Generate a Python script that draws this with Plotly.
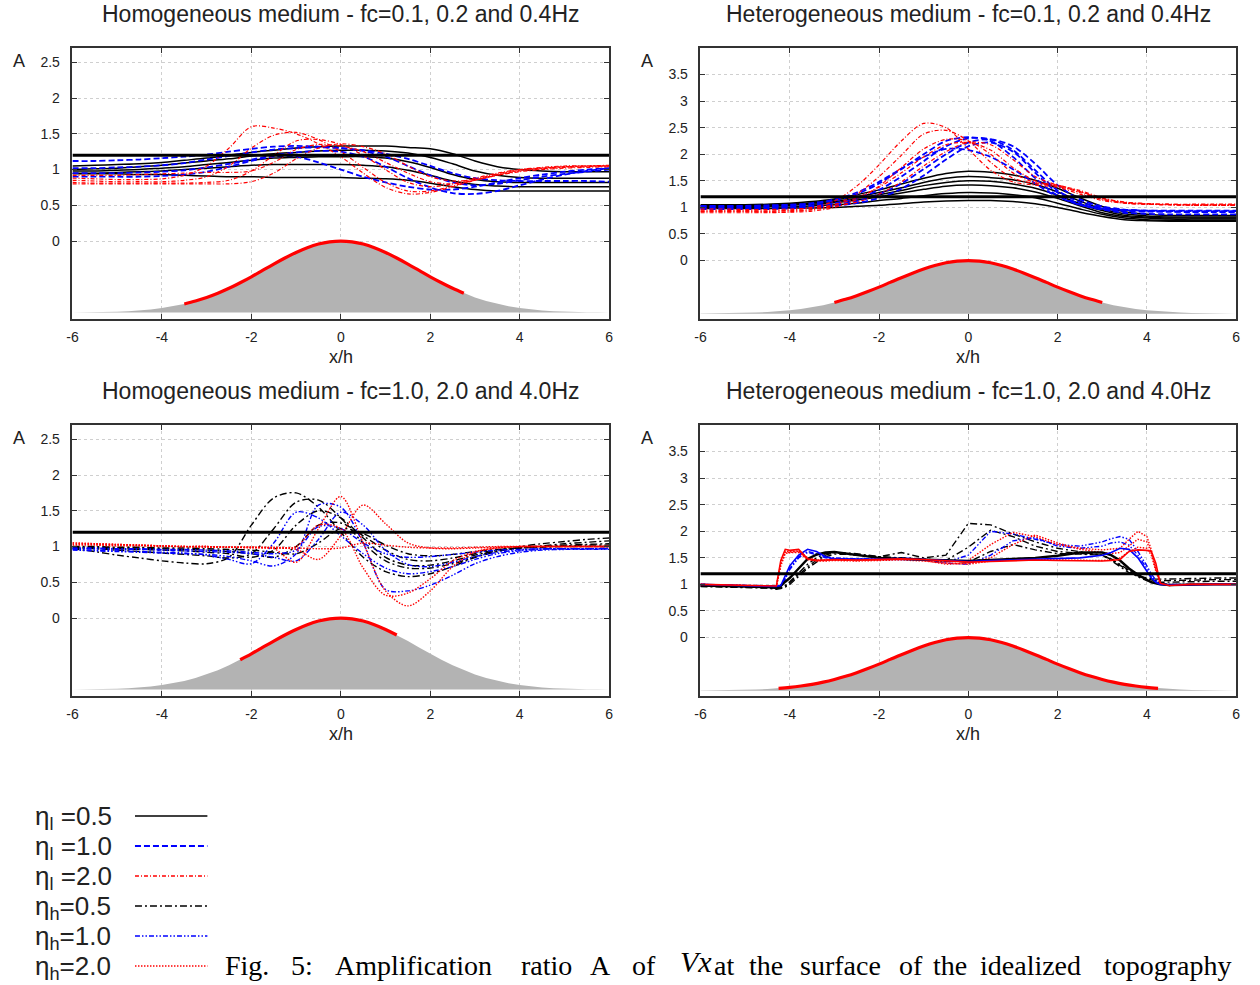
import plotly.graph_objects as go

# ---------------- data ----------------
X_GRID = [-6.0, -5.5, -5.0, -4.5, -4.0, -3.5, -3.0, -2.5, -2.0, -1.5, -1.0, -0.5, 0.0,
          0.5, 1.0, 1.5, 2.0, 2.5, 3.0, 3.5, 4.0, 4.5, 5.0, 5.5, 6.0]
X_BR = [-6.0, -5.5, -5.0, -4.5, -4.3, -4.2, -4.1, -4.0, -3.8, -3.6, -3.4, -3.2, -3.0,
        -2.5, -2.0, -1.5, -1.0, -0.5, 0.0, 0.5, 1.0, 1.5, 2.0, 2.5, 3.0,
        3.2, 3.4, 3.6, 3.8, 4.0, 4.1, 4.2, 4.3, 4.5, 5.0, 5.5, 6.0]

HILL_X = [-6.0, -5.75, -5.5, -5.25, -5.0, -4.75, -4.5, -4.25, -4.0, -3.75, -3.5, -3.25, -3.0,
          -2.75, -2.5, -2.25, -2.0, -1.75, -1.5, -1.25, -1.0, -0.75, -0.5, -0.25, 0.0,
          0.25, 0.5, 0.75, 1.0, 1.25, 1.5, 1.75, 2.0, 2.25, 2.5, 2.75, 3.0,
          3.25, 3.5, 3.75, 4.0, 4.25, 4.5, 4.75, 5.0, 5.25, 5.5, 5.75, 6.0]
HILL_Y = [-0.998, -0.997, -0.995, -0.992, -0.987, -0.980, -0.970, -0.956, -0.937, -0.912, -0.880, -0.839, -0.789,
          -0.730, -0.661, -0.583, -0.500, -0.411, -0.322, -0.237, -0.159, -0.093, -0.042, -0.011, 0.0,
          -0.011, -0.042, -0.093, -0.159, -0.237, -0.322, -0.411, -0.500, -0.583, -0.661, -0.730, -0.789,
          -0.839, -0.880, -0.912, -0.937, -0.956, -0.970, -0.980, -0.987, -0.992, -0.995, -0.997, -0.998]
HILL_BASE = -1.0
REF_A = 1.2
RED_SPAN = {"TL": (-3.5, 2.75), "TR": (-3.0, 3.0), "BL": (-2.25, 1.25), "BR": (-4.25, 4.25)}

TITLES = {
    "TL": "Homogeneous medium - fc=0.1, 0.2 and 0.4Hz",
    "TR": "Heterogeneous medium - fc=0.1, 0.2 and 0.4Hz",
    "BL": "Homogeneous medium - fc=1.0, 2.0 and 4.0Hz",
    "BR": "Heterogeneous medium - fc=1.0, 2.0 and 4.0Hz",
}
X_TICKS = [-6, -4, -2, 0, 2, 4, 6]
X_TICK_TEXT = ["-6", "-4", "-2", "0", "2", "4", "6"]
Y_TICKS_HOM = [0, 0.5, 1, 1.5, 2, 2.5]
Y_TICK_TEXT_HOM = ["0", "0.5", "1", "1.5", "2", "2.5"]
Y_TICKS_HET = [0, 0.5, 1, 1.5, 2, 2.5, 3, 3.5]
Y_TICK_TEXT_HET = ["0", "0.5", "1", "1.5", "2", "2.5", "3", "3.5"]

# Top-left: homogeneous, low frequencies
TL_L05 = [
    [1.05, 1.06, 1.07, 1.08, 1.10, 1.13, 1.16, 1.20, 1.24, 1.27, 1.30, 1.32, 1.33, 1.33, 1.33, 1.31, 1.29, 1.22, 1.12, 1.04, 1.00, 0.98, 0.97, 0.97, 0.97],
    [1.00, 1.01, 1.02, 1.04, 1.06, 1.09, 1.12, 1.15, 1.19, 1.22, 1.24, 1.26, 1.27, 1.27, 1.26, 1.23, 1.17, 1.08, 0.98, 0.92, 0.89, 0.88, 0.88, 0.88, 0.88],
    [0.98, 0.98, 0.99, 1.00, 1.02, 1.04, 1.07, 1.10, 1.13, 1.16, 1.17, 1.18, 1.18, 1.18, 1.16, 1.11, 1.03, 0.93, 0.86, 0.83, 0.82, 0.82, 0.82, 0.82, 0.82],
    [0.95, 0.95, 0.96, 0.97, 0.98, 1.00, 1.02, 1.04, 1.06, 1.07, 1.07, 1.07, 1.07, 1.06, 1.04, 0.99, 0.92, 0.84, 0.79, 0.77, 0.76, 0.76, 0.76, 0.76, 0.76],
    [0.94, 0.94, 0.94, 0.93, 0.93, 0.92, 0.91, 0.90, 0.90, 0.89, 0.89, 0.89, 0.89, 0.88, 0.87, 0.85, 0.81, 0.76, 0.72, 0.70, 0.70, 0.70, 0.70, 0.70, 0.70],
]
TL_L10 = [
    [1.12, 1.12, 1.13, 1.14, 1.16, 1.18, 1.21, 1.25, 1.29, 1.32, 1.33, 1.32, 1.30, 1.27, 1.22, 1.15, 1.05, 0.95, 0.88, 0.85, 0.84, 0.84, 0.84, 0.84, 0.83],
    [1.02, 1.02, 1.03, 1.04, 1.06, 1.09, 1.14, 1.19, 1.24, 1.28, 1.30, 1.31, 1.30, 1.26, 1.18, 1.05, 0.92, 0.82, 0.78, 0.80, 0.85, 0.90, 0.94, 0.97, 1.00],
    [0.95, 0.95, 0.95, 0.96, 0.97, 0.99, 1.03, 1.08, 1.14, 1.20, 1.24, 1.26, 1.25, 1.18, 1.04, 0.88, 0.75, 0.67, 0.66, 0.70, 0.78, 0.86, 0.93, 0.98, 1.02],
    [0.90, 0.90, 0.90, 0.90, 0.91, 0.93, 0.97, 1.04, 1.12, 1.18, 1.18, 1.10, 1.00, 0.90, 0.82, 0.76, 0.72, 0.72, 0.76, 0.82, 0.88, 0.93, 0.97, 1.00, 1.02],
]
TL_L20 = [
    [0.88, 0.87, 0.86, 0.86, 0.87, 0.92, 1.05, 1.30, 1.60, 1.58, 1.50, 1.36, 1.18, 0.95, 0.75, 0.66, 0.68, 0.76, 0.85, 0.93, 0.99, 1.02, 1.04, 1.05, 1.05],
    [0.85, 0.84, 0.83, 0.83, 0.83, 0.85, 0.90, 1.05, 1.30, 1.48, 1.52, 1.42, 1.25, 1.03, 0.82, 0.70, 0.70, 0.77, 0.86, 0.94, 1.00, 1.03, 1.05, 1.05, 1.05],
    [0.82, 0.81, 0.81, 0.81, 0.81, 0.81, 0.82, 0.85, 0.98, 1.20, 1.40, 1.42, 1.35, 1.20, 1.00, 0.82, 0.76, 0.80, 0.88, 0.95, 1.00, 1.02, 1.04, 1.05, 1.06],
    [0.92, 0.92, 0.92, 0.93, 0.94, 0.95, 0.96, 0.96, 0.98, 1.10, 1.28, 1.35, 1.33, 1.25, 1.10, 0.95, 0.83, 0.80, 0.85, 0.92, 0.98, 1.01, 1.03, 1.04, 1.05],
    [0.80, 0.80, 0.80, 0.80, 0.80, 0.80, 0.80, 0.80, 0.83, 0.95, 1.15, 1.30, 1.36, 1.32, 1.22, 1.05, 0.90, 0.84, 0.86, 0.92, 0.97, 1.00, 1.02, 1.03, 1.04],
]

# Top-right: heterogeneous, low frequencies
TR_L05 = [
    [1.05, 1.05, 1.05, 1.06, 1.08, 1.11, 1.16, 1.24, 1.33, 1.44, 1.55, 1.64, 1.68, 1.66, 1.61, 1.51, 1.36, 1.18, 1.02, 0.92, 0.87, 0.85, 0.85, 0.85, 0.85],
    [1.04, 1.04, 1.04, 1.05, 1.07, 1.09, 1.14, 1.20, 1.28, 1.37, 1.47, 1.55, 1.58, 1.56, 1.52, 1.43, 1.29, 1.12, 0.97, 0.88, 0.84, 0.82, 0.82, 0.82, 0.82],
    [1.03, 1.03, 1.03, 1.04, 1.05, 1.08, 1.11, 1.17, 1.24, 1.32, 1.41, 1.47, 1.50, 1.49, 1.44, 1.36, 1.23, 1.07, 0.94, 0.85, 0.82, 0.80, 0.80, 0.80, 0.80],
    [1.02, 1.02, 1.02, 1.03, 1.04, 1.06, 1.09, 1.14, 1.20, 1.27, 1.34, 1.40, 1.42, 1.41, 1.37, 1.29, 1.17, 1.03, 0.90, 0.83, 0.80, 0.78, 0.78, 0.78, 0.78],
    [1.00, 1.00, 1.00, 1.01, 1.01, 1.03, 1.05, 1.08, 1.13, 1.17, 1.22, 1.26, 1.28, 1.27, 1.24, 1.18, 1.08, 0.97, 0.87, 0.80, 0.77, 0.76, 0.76, 0.76, 0.76],
    [0.98, 0.98, 0.98, 0.98, 0.99, 0.99, 1.00, 1.02, 1.04, 1.07, 1.10, 1.12, 1.13, 1.13, 1.11, 1.07, 1.00, 0.91, 0.83, 0.77, 0.75, 0.74, 0.74, 0.74, 0.74],
]
TR_L10 = [
    [1.02, 1.02, 1.02, 1.03, 1.04, 1.07, 1.13, 1.25, 1.45, 1.72, 2.00, 2.25, 2.32, 2.25, 1.95, 1.55, 1.22, 1.05, 0.97, 0.93, 0.92, 0.92, 0.92, 0.92, 0.92],
    [1.00, 1.00, 1.00, 1.01, 1.02, 1.04, 1.08, 1.17, 1.33, 1.58, 1.87, 2.15, 2.30, 2.28, 2.08, 1.70, 1.32, 1.10, 1.00, 0.95, 0.93, 0.92, 0.91, 0.91, 0.91],
    [0.98, 0.98, 0.98, 0.99, 1.00, 1.02, 1.05, 1.12, 1.25, 1.45, 1.72, 2.00, 2.22, 2.28, 2.15, 1.82, 1.42, 1.15, 1.02, 0.96, 0.94, 0.93, 0.93, 0.93, 0.93],
    [1.03, 1.03, 1.03, 1.04, 1.05, 1.08, 1.15, 1.28, 1.48, 1.73, 1.95, 2.10, 2.08, 1.95, 1.72, 1.45, 1.20, 1.05, 0.98, 0.95, 0.94, 0.94, 0.94, 0.94, 0.94],
    [0.97, 0.97, 0.97, 0.97, 0.98, 1.00, 1.03, 1.08, 1.18, 1.35, 1.60, 1.90, 2.15, 2.22, 2.05, 1.65, 1.28, 1.06, 0.96, 0.90, 0.88, 0.87, 0.87, 0.87, 0.87],
]
TR_L20 = [
    [0.95, 0.94, 0.94, 0.93, 0.95, 1.00, 1.12, 1.40, 1.80, 2.25, 2.58, 2.50, 2.10, 1.70, 1.48, 1.42, 1.38, 1.25, 1.13, 1.08, 1.06, 1.05, 1.05, 1.05, 1.05],
    [0.92, 0.92, 0.92, 0.91, 0.92, 0.96, 1.05, 1.25, 1.58, 1.98, 2.38, 2.45, 2.25, 1.85, 1.55, 1.45, 1.40, 1.28, 1.15, 1.08, 1.06, 1.05, 1.04, 1.04, 1.04],
    [0.90, 0.90, 0.90, 0.90, 0.91, 0.93, 1.00, 1.15, 1.40, 1.75, 2.10, 2.28, 2.25, 2.00, 1.65, 1.47, 1.42, 1.30, 1.16, 1.09, 1.06, 1.05, 1.04, 1.04, 1.04],
    [0.97, 0.97, 0.96, 0.96, 0.97, 0.99, 1.05, 1.18, 1.38, 1.65, 1.95, 2.18, 2.22, 2.08, 1.75, 1.50, 1.40, 1.30, 1.17, 1.10, 1.07, 1.06, 1.06, 1.06, 1.06],
    [0.93, 0.93, 0.93, 0.93, 0.94, 0.96, 1.02, 1.10, 1.25, 1.48, 1.78, 2.05, 2.22, 2.18, 1.90, 1.58, 1.42, 1.32, 1.18, 1.10, 1.07, 1.06, 1.05, 1.05, 1.05],
]

# Bottom-left: homogeneous, high frequencies
BL_H05 = [
    [0.97, 0.93, 0.88, 0.84, 0.80, 0.77, 0.76, 0.85, 1.30, 1.68, 1.75, 1.55, 1.20, 0.85, 0.65, 0.58, 0.62, 0.72, 0.85, 0.95, 1.00, 1.04, 1.07, 1.10, 1.12],
    [0.98, 0.97, 0.95, 0.93, 0.91, 0.89, 0.87, 0.84, 0.90, 1.25, 1.62, 1.65, 1.40, 1.05, 0.80, 0.70, 0.70, 0.76, 0.85, 0.93, 0.98, 1.01, 1.04, 1.06, 1.08],
    [0.98, 0.98, 0.97, 0.96, 0.95, 0.94, 0.92, 0.90, 0.85, 0.95, 1.30, 1.50, 1.40, 1.12, 0.85, 0.74, 0.74, 0.80, 0.88, 0.94, 0.98, 1.00, 1.02, 1.03, 1.04],
    [0.99, 0.99, 0.98, 0.98, 0.97, 0.96, 0.95, 0.93, 0.90, 0.85, 1.00, 1.30, 1.33, 1.15, 0.95, 0.82, 0.80, 0.84, 0.90, 0.95, 0.98, 1.00, 1.01, 1.02, 1.02],
    [1.00, 1.00, 0.99, 0.99, 0.98, 0.98, 0.97, 0.96, 0.95, 0.92, 0.90, 1.05, 1.25, 1.18, 1.02, 0.90, 0.87, 0.89, 0.93, 0.96, 0.98, 0.99, 1.00, 1.00, 1.00],
]
BL_H10 = [
    [0.95, 0.94, 0.93, 0.92, 0.91, 0.90, 0.89, 0.86, 0.80, 0.73, 0.90, 1.58, 1.55, 1.05, 0.40, 0.38, 0.46, 0.60, 0.76, 0.86, 0.92, 0.95, 0.96, 0.96, 0.96],
    [0.96, 0.95, 0.94, 0.93, 0.92, 0.91, 0.88, 0.82, 0.76, 1.05, 1.48, 1.40, 1.15, 0.90, 0.70, 0.62, 0.65, 0.72, 0.82, 0.90, 0.94, 0.96, 0.97, 0.97, 0.97],
    [0.97, 0.97, 0.96, 0.96, 0.95, 0.94, 0.93, 0.92, 0.90, 0.85, 0.80, 1.10, 1.48, 1.30, 0.95, 0.75, 0.72, 0.78, 0.86, 0.92, 0.95, 0.97, 0.97, 0.97, 0.97],
    [0.98, 0.98, 0.97, 0.97, 0.96, 0.96, 0.95, 0.94, 0.92, 0.90, 0.95, 1.28, 1.25, 1.05, 0.90, 0.85, 0.86, 0.89, 0.92, 0.95, 0.96, 0.97, 0.97, 0.97, 0.98],
]
BL_H20 = [
    [1.05, 1.04, 1.03, 1.02, 1.01, 1.00, 0.99, 0.99, 0.98, 0.97, 0.78, 1.25, 1.70, 1.05, 0.38, 0.17, 0.38, 0.72, 0.92, 0.98, 1.00, 1.00, 1.00, 1.00, 1.00],
    [1.03, 1.03, 1.02, 1.02, 1.01, 1.00, 1.00, 0.99, 0.99, 0.98, 0.96, 0.82, 1.15, 1.58, 1.32, 1.05, 0.98, 0.97, 0.98, 0.99, 1.00, 1.00, 1.00, 1.00, 1.00],
    [1.02, 1.02, 1.01, 1.01, 1.00, 1.00, 1.00, 0.99, 0.99, 0.98, 1.00, 1.30, 1.25, 0.70, 0.32, 0.35, 0.55, 0.80, 0.93, 0.98, 1.00, 1.00, 1.00, 1.00, 1.00],
    [1.05, 1.04, 1.03, 1.02, 1.01, 1.00, 1.00, 0.99, 0.99, 0.99, 0.98, 0.97, 0.98, 1.05, 1.02, 0.99, 0.98, 0.98, 0.99, 1.00, 1.00, 1.00, 1.00, 1.00, 1.00],
]

# Bottom-right: heterogeneous, high frequencies (denser x sampling)
BR_H05_SOLID = [
    [0.98, 0.97, 0.96, 0.95, 0.93, 0.97, 1.05, 1.12, 1.30, 1.48, 1.56, 1.60, 1.61, 1.55, 1.50, 1.48, 1.47, 1.45,
     1.44, 1.46, 1.48, 1.50, 1.54, 1.60, 1.60, 1.55, 1.45, 1.30, 1.18, 1.08, 1.04, 1.02, 1.00, 0.99, 1.00, 1.00, 1.00],
]
BR_H10_SOLID = [
    [1.00, 0.99, 0.98, 0.97, 0.96, 0.98, 1.15, 1.35, 1.55, 1.66, 1.62, 1.52, 1.48, 1.48, 1.47, 1.48, 1.47, 1.45,
     1.43, 1.45, 1.46, 1.47, 1.48, 1.50, 1.55, 1.60, 1.68, 1.66, 1.50, 1.25, 1.12, 1.04, 1.00, 0.99, 1.00, 1.00, 1.00],
]
BR_H20_SOLID = [
    [1.00, 0.99, 0.97, 0.96, 0.97, 1.45, 1.66, 1.64, 1.66, 1.48, 1.45, 1.46, 1.47, 1.46, 1.47, 1.48, 1.47, 1.45,
     1.42, 1.43, 1.45, 1.46, 1.45, 1.44, 1.44, 1.45, 1.47, 1.62, 1.65, 1.64, 1.62, 1.40, 1.02, 0.98, 1.00, 1.00, 1.00],
]
BR_H05 = [
    [0.98, 0.96, 0.95, 0.94, 0.92, 0.94, 0.98, 1.05, 1.22, 1.38, 1.50, 1.58, 1.60, 1.55, 1.52, 1.60, 1.50, 1.55,
     2.15, 2.12, 1.95, 1.80, 1.68, 1.62, 1.55, 1.45, 1.33, 1.22, 1.15, 1.12, 1.11, 1.10, 1.10, 1.10, 1.11, 1.12, 1.12],
    [0.97, 0.96, 0.95, 0.94, 0.92, 0.93, 0.97, 1.03, 1.18, 1.33, 1.46, 1.55, 1.60, 1.58, 1.52, 1.50, 1.48, 1.45,
     1.70, 2.02, 1.90, 1.72, 1.62, 1.58, 1.55, 1.48, 1.38, 1.26, 1.16, 1.10, 1.08, 1.07, 1.07, 1.07, 1.08, 1.09, 1.09],
    [0.96, 0.95, 0.94, 0.93, 0.91, 0.92, 0.95, 1.00, 1.15, 1.30, 1.42, 1.52, 1.57, 1.56, 1.52, 1.50, 1.48, 1.44,
     1.42, 1.62, 1.75, 1.65, 1.58, 1.57, 1.55, 1.47, 1.36, 1.24, 1.14, 1.07, 1.05, 1.04, 1.04, 1.04, 1.05, 1.06, 1.06],
]
BR_H10 = [
    [1.00, 0.99, 0.98, 0.97, 0.96, 0.98, 1.12, 1.30, 1.52, 1.62, 1.58, 1.52, 1.50, 1.48, 1.48, 1.50, 1.47, 1.42,
     1.55, 2.00, 1.95, 1.85, 1.75, 1.72, 1.80, 1.86, 1.90, 1.85, 1.62, 1.35, 1.20, 1.08, 1.02, 1.00, 1.00, 1.00, 1.00],
    [1.00, 0.99, 0.98, 0.97, 0.96, 0.97, 1.10, 1.28, 1.50, 1.60, 1.56, 1.50, 1.48, 1.47, 1.47, 1.48, 1.46, 1.40,
     1.38, 1.55, 1.82, 1.88, 1.72, 1.68, 1.72, 1.78, 1.80, 1.74, 1.55, 1.30, 1.15, 1.06, 1.01, 1.00, 1.00, 1.00, 1.00],
]
BR_H20 = [
    [1.00, 0.99, 0.98, 0.97, 0.96, 1.40, 1.62, 1.62, 1.63, 1.50, 1.46, 1.46, 1.47, 1.46, 1.47, 1.48, 1.46, 1.42,
     1.45, 1.75, 1.98, 1.90, 1.75, 1.68, 1.65, 1.66, 1.68, 1.85, 2.00, 1.90, 1.65, 1.30, 1.02, 0.98, 1.00, 1.00, 1.00],
    [1.00, 0.99, 0.98, 0.97, 0.96, 1.38, 1.60, 1.60, 1.62, 1.48, 1.45, 1.45, 1.46, 1.45, 1.46, 1.47, 1.45, 1.38,
     1.40, 1.50, 1.75, 1.93, 1.78, 1.66, 1.60, 1.58, 1.60, 1.72, 1.85, 1.80, 1.60, 1.28, 1.02, 0.98, 1.00, 1.00, 1.00],
    [1.00, 0.99, 0.98, 0.97, 0.96, 1.35, 1.58, 1.60, 1.60, 1.47, 1.44, 1.44, 1.45, 1.44, 1.45, 1.46, 1.44, 1.40,
     1.38, 1.44, 1.46, 1.47, 1.46, 1.45, 1.45, 1.46, 1.50, 1.62, 1.70, 1.68, 1.55, 1.25, 1.01, 0.98, 1.00, 1.00, 1.00],
]

LEGEND_LABELS = ["η<sub>l</sub> =0.5", "η<sub>l</sub> =1.0", "η<sub>l</sub> =2.0",
                 "η<sub>h</sub>=0.5", "η<sub>h</sub>=1.0", "η<sub>h</sub>=2.0"]
LEGEND_KEYS = ["l05", "l10", "l20", "h05", "h10", "h20"]
CAPTION_WORDS = ["Fig.", "5:", "Amplification", "ratio", "A", "of", "Vx", "at", "the",
                 "surface", "of", "the", "idealized", "topography"]

# ---------------- styles / layout ----------------
W, H = 1260, 985
BLACK, BLUE, RED = "#000000", "#0000ff", "#ff0000"
STY = {
    "l05": dict(color=BLACK, dash="solid", width=1.5),
    "l10": dict(color=BLUE, dash="6px,3px", width=1.8),
    "l20": dict(color=RED, dash="4px,2px,1px,2px", width=1.2),
    "h05": dict(color=BLACK, dash="7px,3px,2px,3px", width=1.4),
    "h10": dict(color=BLUE, dash="5px,2px,1.5px,2px,1.5px,2px", width=1.4),
    "h20": dict(color=RED, dash="1.5px,1.5px", width=1.4),
    "h05s": dict(color=BLACK, dash="solid", width=2.4),
    "h10s": dict(color=BLUE, dash="solid", width=1.6),
    "h20s": dict(color=RED, dash="solid", width=1.6),
}


def fx(p):
    return p / W


def fy(p):
    return 1 - p / H


PANELS = [
    dict(key="TL", xpx=(67, 608), ypx=(48, 319), yr=(-1.09, 2.70), yt=(Y_TICKS_HOM, Y_TICK_TEXT_HOM),
         x=X_GRID, groups=[("l05", TL_L05), ("l10", TL_L10), ("l20", TL_L20)], shape="spline"),
    dict(key="TR", xpx=(700, 1240), ypx=(48, 319), yr=(-1.10, 4.0), yt=(Y_TICKS_HET, Y_TICK_TEXT_HET),
         x=X_GRID, groups=[("l05", TR_L05), ("l10", TR_L10), ("l20", TR_L20)], shape="spline"),
    dict(key="BL", xpx=(67, 608), ypx=(425, 696), yr=(-1.09, 2.70), yt=(Y_TICKS_HOM, Y_TICK_TEXT_HOM),
         x=X_GRID, groups=[("h05", BL_H05), ("h10", BL_H10), ("h20", BL_H20)], shape="spline"),
    dict(key="BR", xpx=(700, 1240), ypx=(425, 696), yr=(-1.10, 4.0), yt=(Y_TICKS_HET, Y_TICK_TEXT_HET),
         x=X_BR, groups=[("h05", BR_H05), ("h10", BR_H10), ("h20", BR_H20),
                         ("h05s", BR_H05_SOLID), ("h10s", BR_H10_SOLID), ("h20s", BR_H20_SOLID)], shape="linear"),
]

SANS = "Liberation Sans, Arial, sans-serif"
TICK_FONT = dict(family=SANS, size=14, color="#222222")
fig = go.Figure()
annotations = []
shapes = []

for i, p in enumerate(PANELS, start=1):
    sfx = "" if i == 1 else str(i)
    xa, ya = "x" + sfx, "y" + sfx
    # hill (grey fill between base and topography)
    fig.add_trace(go.Scatter(x=HILL_X + HILL_X[::-1], y=HILL_Y + [HILL_BASE] * len(HILL_X),
                             fill="toself", fillcolor="#b3b3b3", mode="lines",
                             line=dict(width=0, color="#b3b3b3"), xaxis=xa, yaxis=ya,
                             hoverinfo="skip", showlegend=False))
    lo, hi = RED_SPAN[p["key"]]
    rx = [x for x in HILL_X if lo <= x <= hi]
    ry = [y for x, y in zip(HILL_X, HILL_Y) if lo <= x <= hi]
    fig.add_trace(go.Scatter(x=rx, y=ry, mode="lines", line=dict(color=RED, width=3.2, shape="spline"),
                             xaxis=xa, yaxis=ya, showlegend=False, hoverinfo="skip"))
    for style, curves in p["groups"]:
        st = STY[style]
        for c in curves:
            fig.add_trace(go.Scatter(x=p["x"], y=c, mode="lines",
                                     line=dict(color=st["color"], dash=st["dash"], width=st["width"],
                                               shape=p["shape"], smoothing=0.9 if p["shape"] == "spline" else None),
                                     xaxis=xa, yaxis=ya, showlegend=False))
    fig.add_trace(go.Scatter(x=[X_TICKS[0], X_TICKS[-1]], y=[REF_A, REF_A], mode="lines",
                             line=dict(color=BLACK, width=3), xaxis=xa, yaxis=ya, showlegend=False))

    x0, x1 = p["xpx"]
    y0, y1 = p["ypx"]
    common = dict(ticks="inside", ticklen=5, tickcolor="#333333", showline=True, linecolor="#333333",
                  linewidth=1.6, mirror="ticks", showgrid=True, gridcolor="#cfcfcf", griddash="dot",
                  gridwidth=1, zeroline=False, tickfont=TICK_FONT, fixedrange=True)
    fig.layout["xaxis" + sfx] = dict(domain=[fx(x0), fx(x1)], anchor=ya, range=[-6, 6], tickvals=X_TICKS,
                                     ticktext=X_TICK_TEXT, ticklabelstandoff=4, **common)
    fig.layout["yaxis" + sfx] = dict(domain=[fy(y1), fy(y0)], anchor=xa, range=list(p["yr"]),
                                     tickvals=p["yt"][0], ticktext=p["yt"][1], ticklabelstandoff=8, **common)

    cx = (x0 + x1) / 2
    annotations.append(dict(text=TITLES[p["key"]], x=fx(cx), y=fy(y0 - 34), xref="paper", yref="paper",
                            showarrow=False, xanchor="center", yanchor="middle",
                            font=dict(family=SANS, size=23, color="#222222")))
    annotations.append(dict(text="x/h", x=fx(cx), y=fy(y1 + 38), xref="paper", yref="paper",
                            showarrow=False, xanchor="center", yanchor="middle",
                            font=dict(family=SANS, size=18, color="#222222")))
    annotations.append(dict(text="A", x=fx(x0 - 54), y=fy(y0 + 13), xref="paper", yref="paper",
                            showarrow=False, xanchor="center", yanchor="middle",
                            font=dict(family=SANS, size=18, color="#222222")))

# legend block (text + line samples)
for k, (lab, key) in enumerate(zip(LEGEND_LABELS, LEGEND_KEYS)):
    yc = 817 + 30 * k
    annotations.append(dict(text=lab, x=fx(27), y=fy(yc), xref="paper", yref="paper", showarrow=False,
                            xanchor="left", yanchor="middle",
                            font=dict(family=SANS, size=26, color="#222222")))
    st = STY[key]
    shapes.append(dict(type="line", xref="paper", yref="paper", x0=fx(130), x1=fx(203), y0=fy(yc - 1), y1=fy(yc - 1),
                       line=dict(color=st["color"], dash=st["dash"], width=max(st["width"], 1.5))))

# caption (justified words)
CAP_X = [219, 285, 330, 517, 587, 629, 677, 712, 747, 798, 898, 932, 980, 1105]
for w, xw in zip(CAPTION_WORDS, CAP_X):
    italic = w == "Vx"
    annotations.append(dict(text=("<i>%s</i>" % w) if italic else w, x=fx(xw), y=fy(961 if italic else 965),
                            xref="paper", yref="paper", showarrow=False, xanchor="left", yanchor="middle",
                            font=dict(family="Liberation Serif, Times New Roman, serif",
                                      size=30 if italic else 28, color="#000000")))

fig.update_layout(width=W, height=H, margin=dict(l=0, r=0, t=0, b=0), autosize=False,
                  paper_bgcolor="white", plot_bgcolor="white", showlegend=False,
                  annotations=annotations, shapes=shapes)

fig.write_html("out.html", config={"displayModeBar": False},
               post_script="document.body.style.margin='0';document.body.style.overflow='hidden';")
